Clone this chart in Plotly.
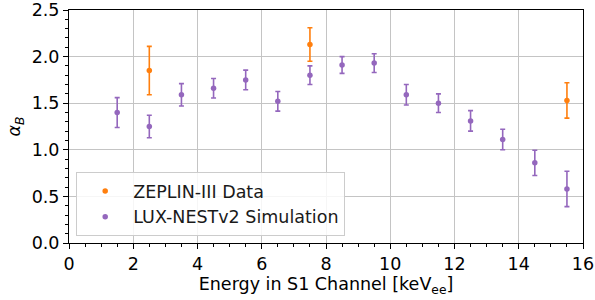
import plotly.graph_objects as go

# Data
zep_x = [2.5, 7.5, 15.5]
zep_y = [1.85, 2.13, 1.53]
zep_err = [0.26, 0.18, 0.19]

lux_x = [1.5, 2.5, 3.5, 4.5, 5.5, 6.5, 7.5, 8.5, 9.5, 10.5, 11.5, 12.5, 13.5, 14.5, 15.5]
lux_y = [1.40, 1.25, 1.59, 1.66, 1.75, 1.52, 1.80, 1.91, 1.93, 1.59, 1.50, 1.31, 1.11, 0.86, 0.58]
lux_err = [0.16, 0.12, 0.12, 0.105, 0.105, 0.105, 0.10, 0.09, 0.10, 0.11, 0.10, 0.11, 0.11, 0.135, 0.19]

x_ticks = [0, 2, 4, 6, 8, 10, 12, 14, 16]
y_ticks = [0.0, 0.5, 1.0, 1.5, 2.0, 2.5]
y_tick_labels = ["0.0", "0.5", "1.0", "1.5", "2.0", "2.5"]

ORANGE = "#ff7f0e"
PURPLE = "#9467bd"
FONT = "DejaVu Sans"
FS = 17.5

fig = go.Figure()
fig.add_trace(go.Scatter(
    x=zep_x, y=zep_y, mode="markers", name="ZEPLIN-III Data",
    marker=dict(color=ORANGE, size=5.5, symbol="circle"),
    error_y=dict(type="data", array=zep_err, visible=True, color=ORANGE, thickness=1.6, width=2.5),
))
fig.add_trace(go.Scatter(
    x=lux_x, y=lux_y, mode="markers", name="LUX-NESTv2 Simulation",
    marker=dict(color=PURPLE, size=5.5, symbol="circle"),
    error_y=dict(type="data", array=lux_err, visible=True, color=PURPLE, thickness=1.6, width=2.5),
))

axis_common = dict(
    showline=True, linecolor="black", linewidth=1, mirror=True,
    ticks="outside", ticklen=5, tickwidth=1, tickcolor="black",
    showgrid=True, gridcolor="#c4c4c4", gridwidth=1,
    zeroline=False, automargin=False,
    tickfont=dict(family=FONT, size=FS, color="black"),
)

fig.update_xaxes(
    range=[0, 16], tickvals=x_ticks,
    minor=dict(dtick=0.5, ticks="outside", ticklen=3, tickcolor="black", showgrid=False),
    title=dict(text="Energy in S1 Channel [keV<sub>ee</sub>]", font=dict(family=FONT, size=FS, color="black"), standoff=2),
    **axis_common,
)
fig.update_yaxes(
    range=[0, 2.5], tickvals=y_ticks, ticktext=y_tick_labels,
    minor=dict(dtick=0.1, ticks="outside", ticklen=3, tickcolor="black", showgrid=False),
    title=dict(text="<i>α</i><sub><i>B</i></sub>", font=dict(family=FONT, size=FS, color="black"), standoff=6),
    **axis_common,
)

fig.update_layout(
    width=595, height=300,
    margin=dict(l=69, r=12, t=10, b=57),
    plot_bgcolor="white", paper_bgcolor="white",
    font=dict(family=FONT, size=FS, color="black"),
    legend=dict(
        x=0.014, y=0.03, xanchor="left", yanchor="bottom",
        bgcolor="rgba(255,255,255,0.85)", bordercolor="#cccccc", borderwidth=1,
        font=dict(family=FONT, size=FS, color="#1a1a1a"),
        tracegroupgap=0, itemwidth=46,
    ),
    showlegend=True,
)

# Remove the default 8px page margin so the figure fills the window exactly.
fig.write_html(
    "out.html",
    config={"displayModeBar": False},
    post_script="document.body.style.margin='0';",
)
